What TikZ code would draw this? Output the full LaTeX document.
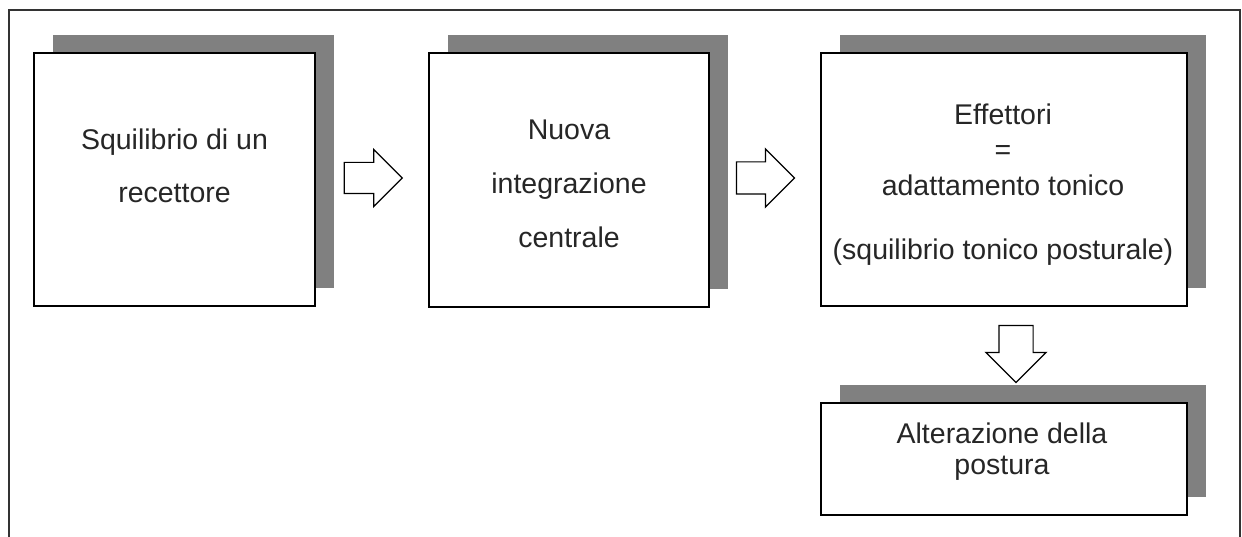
\documentclass[tikz,border=0pt]{standalone}
\usepackage{fontspec}
\setmainfont{Liberation Sans}
\usetikzlibrary{shapes.arrows,shadows}
\definecolor{shadowgray}{HTML}{808080}
\definecolor{framegray}{HTML}{333333}
\begin{document}
\begin{tikzpicture}[x=1pt,y=-1pt,
  box/.style={draw=black, line width=2pt, fill=white, inner sep=0pt,
    drop shadow={shadow xshift=19pt, shadow yshift=18pt, fill=shadowgray, opacity=1}},
  txt/.style={align=center, inner sep=0pt, anchor=base, text=black!85},
  blockarrow/.style={single arrow, draw=black, line width=1.2pt, fill=white,
    inner xsep=0pt, minimum height=58pt, single arrow head extend=13pt, single arrow head indent=0pt}
]
\useasboundingbox (0,0) rectangle (1242,537);
\fill[white] (0,0) rectangle (1242,537);
\coordinate (fbl) at (9,537);
\coordinate (ftl) at (9,10);
\coordinate (ftr) at (1240,10);
\coordinate (fbr) at (1240,537);
\draw[framegray, line width=2pt] (fbl) -- (ftl) -- (ftr) -- (fbr);

\node[box, minimum width=281pt, minimum height=253pt] (b1) at (174.5,179.5) {};
\node[box, minimum width=280pt, minimum height=254pt] (b2) at (569,180) {};
\node[box, minimum width=366pt, minimum height=253pt] (b3) at (1004,179.5) {};
\node[box, minimum width=366pt, minimum height=112pt] (b4) at (1004,459) {};

\node[txt, font=\fontsize{28.5}{53}\selectfont] (t1) at (174.5,203) {Squilibrio di un\\recettore};
\node[txt, font=\fontsize{28.5}{54}\selectfont] (t2) at (569,248) {Nuova\\integrazione\\centrale};
\node[txt, font=\fontsize{28.5}{35.5}\selectfont] (t3) at (1003,260) {Effettori\\=\\adattamento tonico\\[29pt](squilibrio tonico posturale)};
\node[txt, font=\fontsize{28.5}{31}\selectfont] (t4) at (1002,474) {Alterazione della\\postura};

\node[blockarrow, inner ysep=15pt, minimum width=56pt] (a1) at (365.5,178) {};
\node[blockarrow, inner ysep=15.5pt, minimum width=56pt] (a2) at (757.5,178) {};
\node[blockarrow, inner ysep=16.5pt, minimum width=59pt, minimum height=57pt, rotate=-90] (a3) at (1016,345.5) {};
\end{tikzpicture}
\end{document}
